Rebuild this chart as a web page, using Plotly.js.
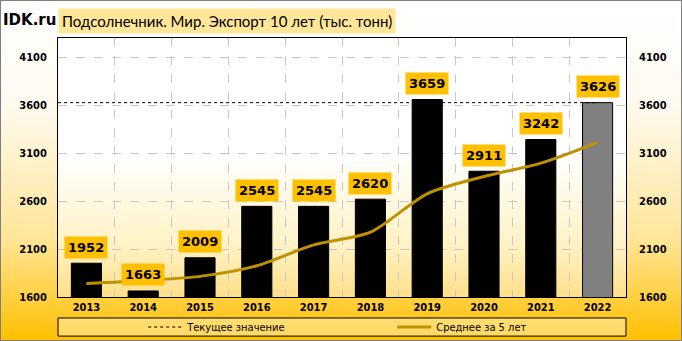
<!DOCTYPE html>
<html><head><meta charset="utf-8">
<script src="https://cdn.plot.ly/plotly-3.0.1.min.js"></script>
<style>
html,body{margin:0;padding:0;}
#wrap{position:relative;width:680px;height:339px;border:1px solid #7f7f7f;background:linear-gradient(to bottom,#ffffff 0%,#fffaf0 30%,#ffe699 70%,#ffc000 100%);overflow:hidden;}
#pbg{position:absolute;left:57px;top:37px;width:568px;height:259px;background:linear-gradient(to bottom,#ffffff 0%,#ffffff 45%,#fff2c4 80%,#ffe08a 100%);}
#chart{position:absolute;left:-1px;top:-1px;width:682px;height:341px;}
</style></head>
<body><div id="wrap"><div id="pbg"></div><div id="chart"></div></div>
<script>
const years = ['2013','2014','2015','2016','2017','2018','2019','2020','2021','2022'];
const exportVals = [1952,1663,2009,2545,2545,2620,3659,2911,3242,3626];
const avg5 = [1740,1772,1815,1925,2143,2276,2676,2856,2995,3212];
const currentVal = 3626;
const yTicks = [1600,2100,2600,3100,3600,4100];
const titleText = 'Подсолнечник. Мир. Экспорт 10 лет (тыс. тонн)';

const n = years.length;
const idx = years.map((y,i)=>i);
const barColors = years.map((y,i)=> i===n-1 ? '#808080' : '#000000');

const tickFont = {family:'DejaVu Sans Condensed', size:11, color:'#000', weight:'bold'};

const traces = [
  {type:'bar', x:idx, y:exportVals, marker:{color:barColors, line:{color:'#000', width:1}}, width:0.53, showlegend:false, hoverinfo:'skip'},
  {type:'scatter', mode:'lines', x:[idx[0]-0.5, idx[n-1]], y:[currentVal,currentVal], name:'Текущее значение', line:{color:'#000', width:1, dash:'3px,3px'}},
  {type:'scatter', mode:'lines', x:idx, y:avg5, name:'Среднее за 5 лет', line:{color:'#bf9000', width:3, shape:'spline', smoothing:0.8}},
  {type:'scatter', mode:'none', x:idx, y:exportVals, yaxis:'y2', showlegend:false, hoverinfo:'skip'}
];

const annotations = idx.map(i=>({
  x:i, y:exportVals[i], xref:'x', yref:'y', text:'<b>'+exportVals[i]+'</b>', showarrow:false,
  yshift:16, bgcolor:'#ffc000', font:{family:'DejaVu Sans', size:13, color:'#000'}, borderpad:3
}));
annotations.push({xref:'paper', yref:'paper', x:0, y:1, xanchor:'left', yanchor:'bottom', yshift:4, text:titleText, showarrow:false, bgcolor:'#ffe699', font:{family:'Lato', size:15, color:'#000'}, borderpad:3});
annotations.push({xref:'paper', yref:'paper', x:0, y:1, xanchor:'right', yanchor:'bottom', yshift:7, text:'<b>IDK.ru</b>', showarrow:false, font:{family:'DejaVu Sans', size:15, color:'#000'}});

const layout = {
  width:682, height:341,
  margin:{l:58, r:56, t:38, b:44, autoexpand:false},
  paper_bgcolor:'rgba(0,0,0,0)', plot_bgcolor:'rgba(0,0,0,0)',
  showlegend:true,
  legend:{orientation:'h', xref:'container', x:0.21, xanchor:'left', yref:'container', y:0.041, yanchor:'middle', entrywidth:200, itemwidth:34, font:{family:'DejaVu Sans Condensed', size:11, color:'#000'}, bgcolor:'rgba(0,0,0,0)'},
  xaxis:{range:[-0.5, n-0.5], tickvals:idx, ticktext:years, showgrid:false, zeroline:false, ticks:'', showline:true, linecolor:'#000', mirror:true, tickfont:tickFont,
         minor:{tick0:0.5, dtick:1, showgrid:true, gridcolor:'#c8c8c8', griddash:'dash', ticks:''}},
  yaxis:{range:[1600,4300], tickvals:yTicks, showgrid:true, gridcolor:'#c8c8c8', griddash:'dash', zeroline:false, showline:true, linecolor:'#000', mirror:true, tickfont:tickFont, ticklabelstandoff:8},
  yaxis2:{overlaying:'y', side:'right', range:[1600,4300], tickvals:yTicks, showgrid:false, zeroline:false, tickfont:tickFont, ticklabelstandoff:12},
  shapes:[{type:'rect', xref:'paper', yref:'paper', x0:0, x1:1, y0:-0.081, y1:-0.151, line:{color:'#000', width:1}, fillcolor:'rgba(255,242,196,0.5)', layer:'below'}],
  annotations:annotations
};
Plotly.newPlot('chart', traces, layout, {displayModeBar:false, staticPlot:true});
</script></body></html>
